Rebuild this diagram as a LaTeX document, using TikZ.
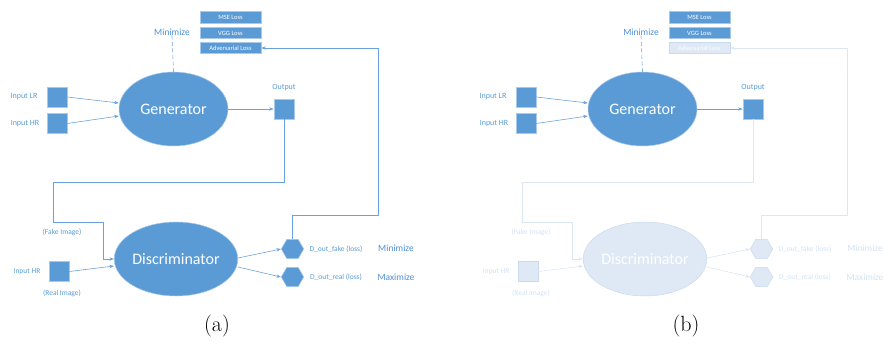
\documentclass[tikz,border=0pt]{standalone}
\usepackage{fontspec}
\newfontfamily\carfont{Carlito}
\usetikzlibrary{shapes.geometric,arrows.meta,calc}
\definecolor{obl}{HTML}{5B9BD5}
\definecolor{oline}{HTML}{6AA3DB}
\definecolor{oedge}{HTML}{A9C9EB}
\definecolor{omin}{HTML}{4E8FD8}
\definecolor{ffill}{HTML}{DEE9F5}
\definecolor{fedge}{HTML}{CBDAEC}
\definecolor{fline}{HTML}{DCE7F4}
\definecolor{ftext}{HTML}{D3E2F3}
\tikzset{
  sq/.style={rectangle,fill=obl,draw=oedge,line width=0.6pt,minimum size=20pt,inner sep=0pt},
  lossbox/.style={rectangle,fill=obl,draw=oedge,line width=0.6pt,minimum width=61pt,minimum height=11.5pt,inner sep=0pt,text=white,font=\carfont\fontsize{6.5}{7}\selectfont},
  ell/.style={ellipse,fill=obl,draw=oedge,line width=0.5pt,inner sep=0pt,text=white,font=\carfont\fontsize{16}{18}\selectfont},
  hex/.style={regular polygon,regular polygon sides=6,fill=obl,draw=oedge,line width=0.5pt,minimum size=22.5pt,inner sep=0pt},
  lbl/.style={text=obl,inner sep=0pt,font=\carfont\fontsize{8}{9}\selectfont},
  slbl/.style={text=obl,inner sep=0pt,font=\carfont\fontsize{7.5}{9}\selectfont},
  minlbl/.style={text=omin,inner sep=0pt,font=\carfont\fontsize{9.5}{11}\selectfont},
  conn/.style={draw=oline,line width=0.6pt},
  arr/.style={conn,-{Stealth[length=4.5pt,width=3.4pt]}},
  caplbl/.style={inner sep=0pt,font=\fontsize{22}{26}\selectfont},
  fdbox/.style={}, fdline/.style={}, fdtext/.style={}
}
\newcommand\gpanel[2]{%
  \node[lossbox] (#1mse) at (230.5,17.5) {MSE Loss};
  \node[lossbox] (#1vgg) at (230.5,33) {VGG Loss};
  \node[lossbox,fdbox] (#1adv) at (230.5,48) {Adversarial Loss};
  \node[minlbl] (#1gmin) at (172,32) {Minimize};
  \node[ell,minimum width=109pt,minimum height=74pt] (#1gen) at (173.5,109) {Generator};
  \draw[conn,dash pattern=on 4pt off 2.5pt] (#1gmin.south) -- (#1gen.north);
  \node[sq] (#1ilr) at (57,97) {};
  \node[sq] (#1ihr) at (57,123.5) {};
  \node[lbl] (#1tlr) at (24,97) {Input LR};
  \node[lbl] (#1thr) at (25,124) {Input HR};
  \draw[arr] (#1ilr.east) -- ($(#1gen.west)+(0,-6)$);
  \draw[arr] (#1ihr.east) -- ($(#1gen.west)+(0,7)$);
  \node[sq] (#1out) at (284,109) {};
  \node[lbl] (#1tout) at (284,88) {Output};
  \draw[arr] (#1gen.east) -- (#1out.west);
  % discriminator
  \node[ell,fdbox,minimum width=110pt,minimum height=74pt] (#1disc) at (176,259) {Discriminator};
  \draw[arr,fdline] (#1out.south) |- (53,182) |- (103,222) |- (#1disc.west);
  \node[sq,fdbox] (#1dhr) at (59,271.5) {};
  \node[slbl,fdtext] (#1tdhr) at (27,272) {Input HR};
  \node[slbl,fdtext] (#1tfake) at (62,232) {(Fake Image)};
  \node[slbl,fdtext] (#1treal) at (62,293) {(Real Image)};
  \draw[arr,fdline] (#1dhr.east) -- ($(#1disc.west)+(0,7)$);
  \node[hex,fdbox] (#1hf) at (292.5,249) {};
  \node[hex,fdbox] (#1hr) at (292.5,277) {};
  \draw[arr,fdline] ($(#1disc.east)+(0,-1)$) -- (#1hf.west);
  \draw[arr,fdline] ($(#1disc.east)+(0,8)$) -- (#1hr.west);
  \node[slbl,fdtext] (#1tf) at (336,249) {D\textunderscore out\textunderscore fake (loss)};
  \node[slbl,fdtext] (#1tr) at (336,277) {D\textunderscore out\textunderscore real (loss)};
  \node[minlbl,fdtext] (#1mn) at (396,248) {Minimize};
  \node[minlbl,fdtext] (#1mx) at (396,277) {Maximize};
  \draw[arr,fdline] (#1hf.north) |- (378,215) |- (#1adv.east);
  \node[caplbl] (#1cap) at (217,326) {#2};
}
\begin{document}
\begin{tikzpicture}[x=1pt,y=-1pt]
\path[use as bounding box] (0,0) rectangle (884,343);
\begin{scope}
\gpanel{a}{(a)}
\end{scope}
\begin{scope}[xshift=469pt,
  fdbox/.style={fill=ffill,draw=fedge},
  fdline/.style={draw=fline},
  fdtext/.style={text=ftext}]
\gpanel{b}{(b)}
\end{scope}
\end{tikzpicture}
\end{document}
